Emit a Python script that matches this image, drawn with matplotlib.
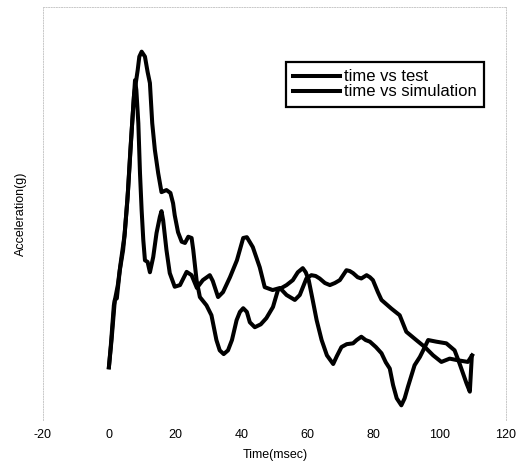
import matplotlib.pyplot as plt

plt.rcParams['font.family'] = ['Liberation Sans', 'DejaVu Sans']

# time vs test (tall peak)
test_t = [0, 0.8, 1.8, 2.4, 3.3, 4.3, 4.8, 5.8, 6.9, 7.6, 8.7, 9.2, 9.9, 10.9, 11.7, 12.4,
          13.1, 13.9, 14.9, 15.9, 17.4, 18.6, 19.4, 19.9, 20.9, 22.0, 23.0, 24.0, 25.0,
          25.5, 26.5, 27.5, 29.5, 31.0, 32.5, 33.5, 34.7, 36.0, 37.2, 38.6, 39.6, 40.6,
          41.7, 42.6, 44.1, 45.9, 47.6, 49.6, 51.1, 53.7, 55.6, 57.1, 58.6, 59.5, 60.4,
          61.6, 62.8, 64.3, 65.9, 67.8, 68.9, 70.3, 71.9, 73.8, 74.9, 76.3, 77.6, 78.9,
          80.7, 82.4, 83.7, 84.9, 85.9, 87.0, 88.4, 89.4, 90.4, 92.4, 94.0, 95.0, 96.5,
          99.0, 102.0, 104.5, 106.0, 108.1, 109.1, 109.7]
test_acc = [12.8, 19.4, 29.1, 29.5, 36.3, 41.2, 45.3, 55.7, 70.2, 78.7, 84.7, 88.0, 89.2,
            88.0, 84.3, 81.6, 71.9, 65.4, 59.8, 55.2, 55.7, 55.0, 52.5, 49.6, 45.5, 43.2,
            42.9, 44.4, 44.1, 41.2, 33.9, 29.8, 27.8, 25.4, 19.4, 16.9, 16.0, 16.9, 19.4,
            24.2, 26.2, 27.1, 26.2, 23.7, 22.5, 23.2, 24.7, 27.4, 31.5, 32.7, 33.9, 35.8,
            36.8, 35.8, 33.9, 29.1, 24.2, 19.4, 15.7, 13.6, 15.5, 17.7, 18.4, 18.6, 19.4,
            20.2, 19.4, 19.0, 17.7, 16.2, 14.0, 12.5, 8.5, 5.3, 3.6, 5.3, 8.1, 13.3, 15.3,
            16.9, 19.4, 19.0, 18.6, 16.9, 13.7, 8.9, 6.9, 15.5]

# time vs simulation
sim_t = [0, 0.6, 1.5, 2.7, 3.6, 4.7, 5.6, 6.5, 7.3, 7.9, 8.3, 8.9, 9.4, 9.9, 10.4, 10.9,
         11.7, 12.4, 13.4, 14.4, 15.4, 15.9, 16.4, 17.4, 18.4, 19.9, 21.5, 23.5, 25.0,
         26.6, 28.4, 30.5, 31.4, 33.0, 34.5, 36.6, 38.7, 40.6, 41.7, 43.5, 45.6, 47.1,
         49.5, 51.7, 53.7, 56.2, 57.7, 58.7, 59.7, 61.2, 62.5, 63.7, 65.3, 66.8, 68.3,
         69.8, 71.8, 72.8, 73.8, 75.2, 76.3, 77.9, 78.9, 79.8, 81.3, 82.4, 85.4, 87.9,
         89.9, 92.9, 95.5, 98.0, 100.5, 103.0, 105.5, 108.5, 109.8]
sim_acc = [12.8, 18.2, 27.8, 32.7, 38.3, 44.6, 53.3, 65.4, 75.1, 82.3, 79.9, 71.9, 59.8,
           50.8, 43.6, 38.7, 38.3, 35.8, 39.5, 45.3, 49.2, 50.6, 48.4, 41.2, 35.6, 32.3,
           32.7, 35.9, 35.1, 32.0, 33.9, 35.1, 33.7, 29.8, 31.0, 34.6, 38.7, 44.1, 44.3,
           41.9, 37.0, 32.2, 31.5, 32.0, 30.3, 29.1, 30.3, 32.3, 34.3, 35.1, 34.9, 34.3,
           33.2, 32.7, 33.2, 33.9, 36.3, 36.1, 35.6, 34.6, 34.3, 35.1, 34.6, 33.9, 31.0,
           29.1, 27.0, 25.4, 21.4, 19.4, 17.7, 15.7, 14.1, 14.9, 14.5, 14.1, 15.7]

xticks = [-20, 0, 20, 40, 60, 80, 100, 120]

fig = plt.figure(figsize=(5.21, 4.70), dpi=100)
ax = fig.add_axes([0.082, 0.106, 0.889, 0.879])

ax.plot(test_t, test_acc, color='black', linewidth=2.9, label='time vs test')
ax.plot(sim_t, sim_acc, color='black', linewidth=2.9, label='time vs simulation')

ax.set_xlim(-20, 120)
ax.set_ylim(0, 100)
ax.set_xticks(xticks)
ax.set_xticklabels([str(v) for v in xticks], fontsize=9)
ax.set_yticks([])
ax.tick_params(axis='x', length=0, pad=6)

# faint dotted frame like the scanned original
for side in ['top', 'left', 'right']:
    ax.spines[side].set_color('#c8c8c8')
    ax.spines[side].set_linestyle(':')
    ax.spines[side].set_linewidth(0.7)
ax.spines['bottom'].set_visible(False)

ax.set_xlabel('Time(msec)', fontsize=9)
ax.xaxis.set_label_coords(0.503, -0.07)
ax.set_ylabel('Acceleration(g)', fontsize=9)
ax.yaxis.set_label_coords(-0.035, 0.5)

leg = ax.legend(loc='upper left', bbox_to_anchor=(0.525, 0.867), borderaxespad=0,
                fontsize=12, handlelength=2.8, handletextpad=0.25, borderpad=0.45,
                labelspacing=0.0, fancybox=False, framealpha=1, edgecolor='black')
leg.get_frame().set_linewidth(1.6)

plt.savefig('out.png', dpi=100)
